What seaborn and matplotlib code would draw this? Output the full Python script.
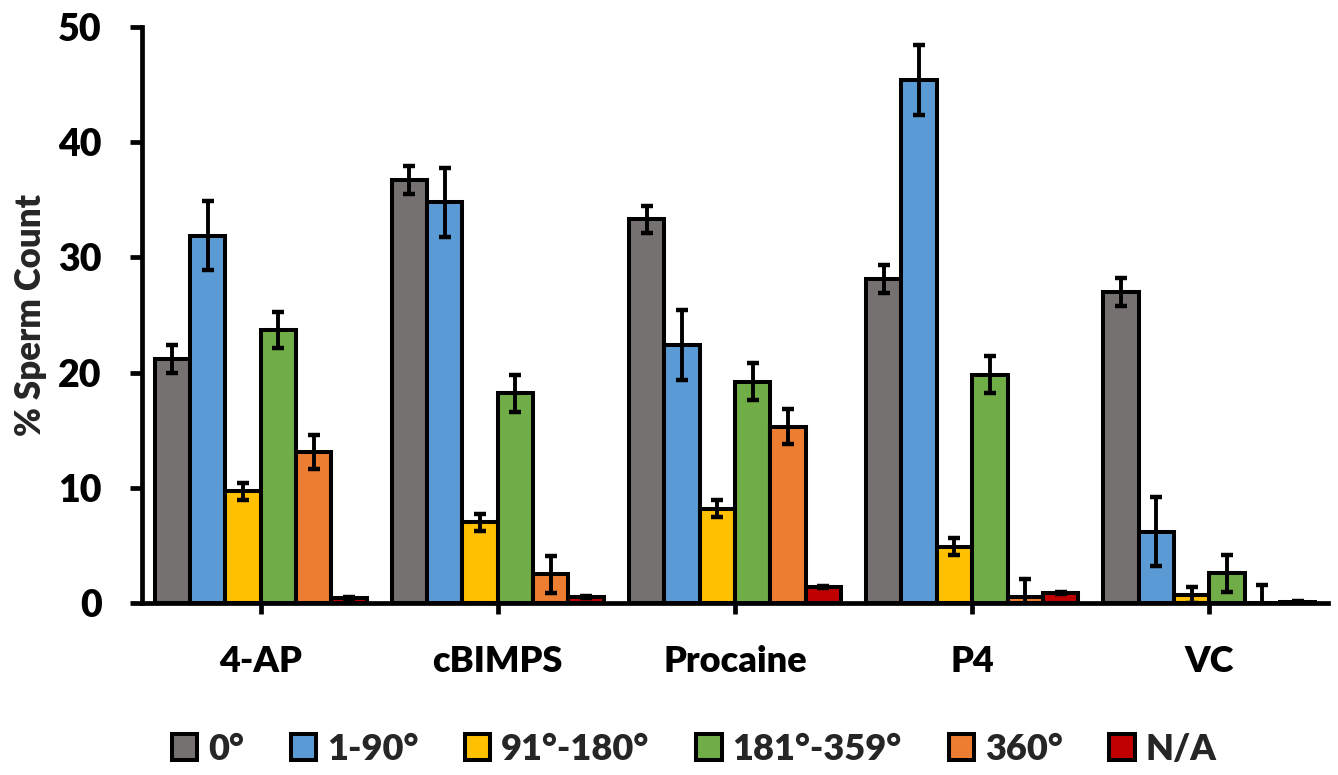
import numpy as np
import pandas as pd
import matplotlib
matplotlib.use("Agg")
import matplotlib.pyplot as plt
import seaborn as sns

# Treatment groups and rotation-angle classes
treatments = ["4-AP", "cBIMPS", "Procaine", "P4", "VC"]
angles = ["0°", "1-90°", "91°-180°", "181°-359°", "360°", "N/A"]

# Mean % sperm count per angle class (order follows `treatments`)
deg_0 = [21.2, 36.7, 33.3, 28.1, 27.0]
deg_1_90 = [31.9, 34.8, 22.4, 45.4, 6.2]
deg_91_180 = [9.7, 7.0, 8.2, 4.9, 0.7]
deg_181_359 = [23.7, 18.2, 19.2, 19.8, 2.6]
deg_360 = [13.1, 2.5, 15.3, 0.5, 0.0]
deg_na = [0.4, 0.5, 1.4, 0.9, 0.05]

# Standard errors
err_0 = [1.2, 1.2, 1.2, 1.2, 1.2]
err_1_90 = [3.0, 3.0, 3.0, 3.0, 3.0]
err_91_180 = [0.75, 0.75, 0.75, 0.75, 0.7]
err_181_359 = [1.6, 1.6, 1.6, 1.6, 1.6]
err_360 = [1.5, 1.6, 1.5, 1.6, 1.6]
err_na = [0.1, 0.1, 0.1, 0.1, 0.1]

palette = ["#767171", "#5B9BD5", "#FFC000", "#70AD47", "#ED7D31", "#C00000"]

means = [deg_0, deg_1_90, deg_91_180, deg_181_359, deg_360, deg_na]
errs = [err_0, err_1_90, err_91_180, err_181_359, err_360, err_na]

df = pd.DataFrame({
    "Treatment": np.repeat([treatments], len(angles), axis=0).ravel(),
    "Angle": np.repeat(angles, len(treatments)),
    "Value": np.ravel(means),
})

sns.set_theme(style="white")
plt.rcParams["font.family"] = ["Lato", "DejaVu Sans"]
plt.rcParams["font.weight"] = "heavy"

fig = plt.figure(figsize=(13.38, 7.75), dpi=100)
ax = fig.add_axes([0.1061, 0.2219, 0.9925 - 0.1061, 0.9652 - 0.2219])

sns.barplot(data=df, x="Treatment", y="Value", hue="Angle",
            order=treatments, hue_order=angles, palette=palette,
            width=0.894, gap=0, errorbar=None, saturation=1,
            edgecolor="black", linewidth=2.9, ax=ax, legend=False)

bar_groups = list(ax.containers)

# Error bars positioned on each drawn bar
for cont, err in zip(bar_groups, errs):
    xs = [p.get_x() + p.get_width() / 2 for p in cont.patches]
    ys = [p.get_height() for p in cont.patches]
    ax.errorbar(xs, ys, yerr=err, fmt="none", ecolor="black",
                elinewidth=2.8, capsize=4.5, capthick=3.2, zorder=5)

ax.set_xlim(-0.5, 4.5)
ax.set_ylim(0, 50)
ax.set_yticks(np.arange(0, 51, 10))
ax.set_xlabel("")
ax.set_ylabel("% Sperm Count", fontsize=25, fontweight="heavy", labelpad=8)

for side in ["top", "right"]:
    ax.spines[side].set_visible(False)
for side in ["left", "bottom"]:
    ax.spines[side].set_linewidth(3.4)
    ax.spines[side].set_color("black")
    ax.spines[side].set_capstyle("projecting")

ax.tick_params(axis="y", which="major", direction="out", length=9, width=3.4,
               labelsize=27, pad=20, left=True, colors="black")
ax.tick_params(axis="x", which="major", direction="out", length=8, width=3.4,
               labelsize=26, pad=22, bottom=True, colors="black")
for lbl in ax.get_xticklabels() + ax.get_yticklabels():
    lbl.set_fontweight("heavy")

handles = [cont.patches[0] for cont in bar_groups]
fig.legend(handles, angles, loc="center", bbox_to_anchor=(694 / 1338, 1 - 749 / 775),
           ncol=6, frameon=False, prop={"size": 26, "weight": "heavy"},
           handlelength=0.7, handleheight=0.7, handletextpad=0.3,
           columnspacing=1.3)

fig.savefig("out.png", dpi=100, facecolor="white")
